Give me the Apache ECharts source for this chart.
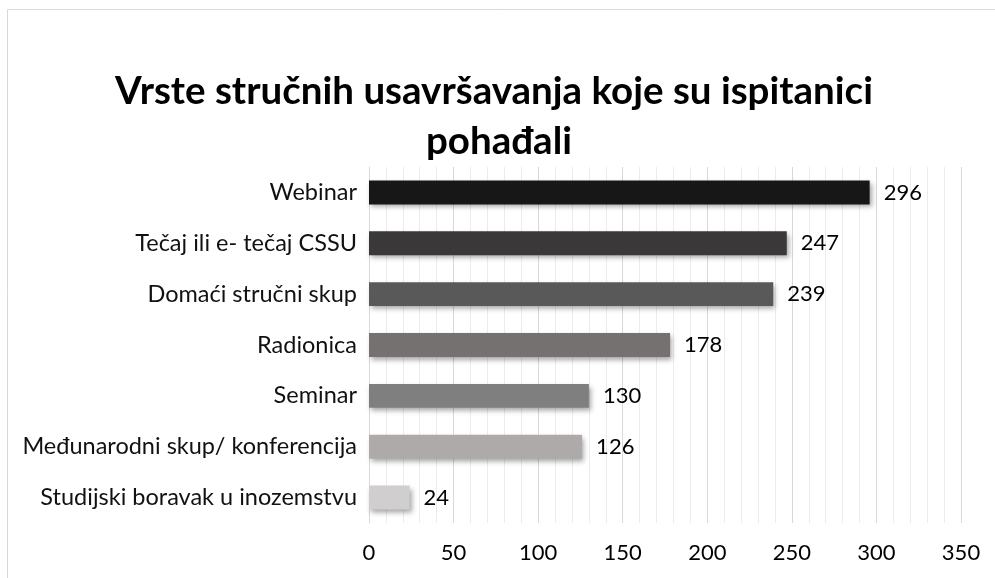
<!DOCTYPE html>
<html><head><meta charset="utf-8">
<script src="https://cdn.jsdelivr.net/npm/echarts@6/dist/echarts.min.js"></script>
<style>html,body{margin:0;padding:0;background:#fff}#c{width:995px;height:578px}</style>
</head><body><div id="c"></div>
<script>
const categories = ["Studijski boravak u inozemstvu","Međunarodni skup/ konferencija","Seminar","Radionica","Domaći stručni skup","Tečaj ili e- tečaj CSSU","Webinar"];
const values = [24,126,130,178,239,247,296];
const barColors = ["#d0cece","#aeaaaa","#7f7f7f","#767171","#595959","#3a3838","#171717"];
const xTicks = [0,50,100,150,200,250,300,350];
const titleLines = ["Vrste stručnih usavršavanja koje su ispitanici","pohađali"];

const chart = echarts.init(document.getElementById('c'), null, {renderer:'canvas'});
const font = 'Lato, "Open Sans", sans-serif';
chart.setOption({
  animation:false,
  graphic:[
    {type:'rect',shape:{x:7.5,y:9.5,width:1000,height:600},style:{fill:'none',stroke:'#d9d9d9',lineWidth:1},z:-1},
    {type:'text',x:494,y:92,style:{text:titleLines[0],font:'bold 38.5px '+font,fill:'#000',textAlign:'center',textVerticalAlign:'middle'}},
    {type:'text',x:499,y:142,style:{text:titleLines[1],font:'bold 38.5px '+font,fill:'#000',textAlign:'center',textVerticalAlign:'middle'}}
  ],
  grid:{left:369,right:34,top:167,bottom:55},
  xAxis:{type:'value',min:0,max:350,interval:50,
    axisLine:{show:false},axisTick:{show:false},
    axisLabel:{fontFamily:font,fontSize:22,color:'#000',margin:19,
      formatter:v=>xTicks.includes(v)?String(v):''},
    splitLine:{show:true,lineStyle:{color:'#d9d9d9',width:1}},
    minorTick:{show:false,splitNumber:5},
    minorSplitLine:{show:true,lineStyle:{color:'#ececec',width:1}}},
  yAxis:{type:'category',data:categories,
    axisLine:{show:true,lineStyle:{color:'#d9d9d9'}},axisTick:{show:false},
    axisLabel:{fontFamily:font,fontSize:23.5,color:'#111',margin:12}},
  series:[{type:'bar',barWidth:'47%',
    data:values.map((v,i)=>({value:v,itemStyle:{color:barColors[i]}})),
    itemStyle:{shadowColor:'rgba(0,0,0,0.35)',shadowBlur:5,shadowOffsetX:2,shadowOffsetY:3},
    label:{show:true,position:'right',distance:14,fontFamily:font,fontSize:22,color:'#000'}}]
});
</script></body></html>
